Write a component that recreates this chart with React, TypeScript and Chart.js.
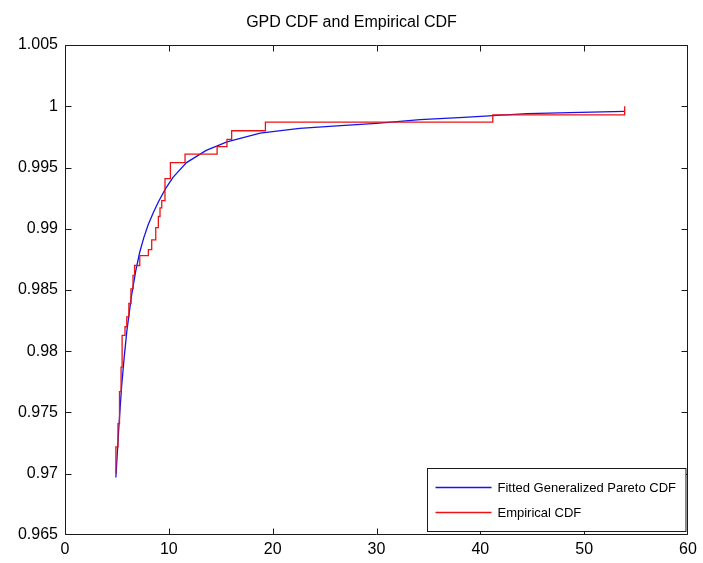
import React, { useEffect, useRef } from "react";
import { Chart, registerables } from "chart.js";

Chart.register(...registerables);

const TITLE = "GPD CDF and Empirical CDF";
const SERIES_NAMES = ["Fitted Generalized Pareto CDF", "Empirical CDF"];

const X_MIN = 0;
const X_MAX = 60;
const X_STEP = 10;
const Y_MIN = 0.965;
const Y_MAX = 1.005;
const Y_STEP = 0.005;

// Fitted GPD CDF
const gpdX = [4.9, 5.2, 5.45, 5.7, 5.95, 6.4, 6.8, 7.2, 7.6, 8.0, 8.5, 9.0, 9.7, 10.4, 11.7, 13.6, 15.6, 18.8, 22.6, 26.2, 30.0, 34.2, 38.4, 44.5, 50.7, 53.9];
const gpdY = [0.9697, 0.974, 0.9771, 0.9795, 0.9816, 0.9845, 0.9865, 0.9881, 0.9893, 0.9903, 0.9913, 0.9922, 0.9933, 0.9942, 0.9954, 0.9964, 0.9971, 0.9978, 0.9982, 0.9984, 0.9986, 0.9989, 0.9991, 0.9994, 0.99952, 0.99958];

// Empirical CDF steps (x where the jump happens, level after the jump)
const ecdfX = [4.9, 4.9, 5.1, 5.25, 5.4, 5.5, 5.78, 5.95, 6.15, 6.35, 6.55, 6.7, 7.2, 8.03, 8.35, 8.74, 8.99, 9.15, 9.32, 9.63, 10.15, 11.56, 14.65, 15.6, 16.05, 19.3, 41.2, 53.9];
const ecdfY = [0.97, 0.9722, 0.9741, 0.9767, 0.9787, 0.9813, 0.982, 0.9828, 0.9839, 0.9851, 0.9862, 0.987, 0.9878, 0.9883, 0.9891, 0.9901, 0.991, 0.9917, 0.9923, 0.9941, 0.9954, 0.9961, 0.9967, 0.9973, 0.998, 0.9987, 0.9993, 1.0];

const BLUE = "rgb(20,20,235)";
const RED = "rgb(235,20,20)";
const AXIS = "#1a1a1a";
const FONT = '"Liberation Sans", Arial, Helvetica, sans-serif';
const TITLE_SIZE = 16;
const TICK_SIZE = 16;
const LEGEND_SIZE = 13;

const boxPlugin = {
  id: "matlabBox",
  afterDraw(chart: any) {
    const { ctx, chartArea } = chart;
    const l = Math.round(chartArea.left) + 0.5;
    const r = Math.round(chartArea.right) - 0.5;
    const t = Math.round(chartArea.top) + 0.5;
    const b = Math.round(chartArea.bottom) - 0.5;
    ctx.save();
    ctx.strokeStyle = AXIS;
    ctx.lineWidth = 1;
    ctx.beginPath();
    ctx.rect(l, t, r - l, b - t);
    const tl = 6;
    const xs = chart.scales.x;
    xs.ticks.forEach((tk: any) => {
      const px = Math.min(r, Math.max(l, Math.round(xs.getPixelForValue(tk.value)) + 0.5));
      ctx.moveTo(px, b);
      ctx.lineTo(px, b - tl);
      ctx.moveTo(px, t);
      ctx.lineTo(px, t + tl);
    });
    const ys = chart.scales.y;
    ys.ticks.forEach((tk: any) => {
      const py = Math.min(b, Math.max(t, Math.round(ys.getPixelForValue(tk.value)) + 0.5));
      ctx.moveTo(l, py);
      ctx.lineTo(l + tl, py);
      ctx.moveTo(r, py);
      ctx.lineTo(r - tl, py);
    });
    ctx.stroke();

    // legend box inside the plot, bottom-right
    const dsets = chart.data.datasets;
    ctx.font = `${LEGEND_SIZE}px ${FONT}`;
    let textW = 0;
    dsets.forEach((d: any) => {
      textW = Math.max(textW, ctx.measureText(d.label).width);
    });
    const lineLen = 56;
    const padL = 8;
    const gap = 6;
    const padR = 10;
    const rowH = 25;
    const boxW = padL + lineLen + gap + textW + padR;
    const boxH = rowH * dsets.length + 13;
    const bx = Math.round(chartArea.right - 3 - boxW) + 0.5;
    const by = Math.round(chartArea.bottom - 4 - boxH) + 0.5;
    ctx.fillStyle = "#fff";
    ctx.fillRect(bx, by, boxW, boxH);
    ctx.strokeStyle = AXIS;
    ctx.lineWidth = 1;
    ctx.strokeRect(bx, by, boxW, boxH);
    ctx.textBaseline = "middle";
    ctx.textAlign = "left";
    dsets.forEach((d: any, i: number) => {
      const cy = Math.round(by + 6 + rowH * (i + 0.5)) + 0.5;
      ctx.strokeStyle = d.borderColor;
      ctx.lineWidth = 1.3;
      ctx.beginPath();
      ctx.moveTo(bx + padL, cy);
      ctx.lineTo(bx + padL + lineLen, cy);
      ctx.stroke();
      ctx.fillStyle = "#000";
      ctx.fillText(d.label, bx + padL + lineLen + gap, cy + 1);
    });
    ctx.restore();
  },
};

export default function App() {
  const ref = useRef<HTMLCanvasElement>(null);

  useEffect(() => {
    if (!ref.current) return;
    const chart = new Chart(ref.current, {
      type: "line",
      data: {
        datasets: [
          {
            label: SERIES_NAMES[0],
            data: gpdX.map((x, i) => ({ x, y: gpdY[i] })),
            borderColor: BLUE,
            backgroundColor: BLUE,
            borderWidth: 1.3,
            pointRadius: 0,
            tension: 0,
            fill: false,
            order: 1,
          },
          {
            label: SERIES_NAMES[1],
            data: ecdfX.map((x, i) => ({ x, y: ecdfY[i] })),
            borderColor: RED,
            backgroundColor: RED,
            borderWidth: 1.3,
            pointRadius: 0,
            stepped: "before",
            fill: false,
            order: 0,
          },
        ],
      },
      options: {
        responsive: false,
        animation: false,
        events: [],
        layout: { padding: { left: 0, right: 0, top: 0, bottom: 0 } },
        plugins: {
          legend: { display: false },
          tooltip: { enabled: false },
          title: {
            display: true,
            text: TITLE,
            color: "#000",
            font: { family: FONT, size: TITLE_SIZE, weight: "normal" },
            padding: { top: 13, bottom: 12.8 },
          },
        },
        scales: {
          x: {
            type: "linear",
            min: X_MIN,
            max: X_MAX,
            border: { display: false },
            grid: { display: false, drawTicks: false },
            ticks: {
              stepSize: X_STEP,
              color: "#000",
              padding: 5,
              maxRotation: 0,
              font: { family: FONT, size: TICK_SIZE },
            },
            afterFit: (s: any) => {
              s.height = 28;
            },
          },
          y: {
            type: "linear",
            min: Y_MIN,
            max: Y_MAX,
            border: { display: false },
            grid: { display: false, drawTicks: false },
            ticks: {
              stepSize: Y_STEP,
              color: "#000",
              padding: 7,
              font: { family: FONT, size: TICK_SIZE },
              callback: (v: any) => String(+Number(v).toFixed(3)),
            },
            afterFit: (s: any) => {
              s.width = 65;
            },
          },
          yRight: {
            type: "linear",
            position: "right",
            display: true,
            border: { display: false },
            grid: { display: false, drawTicks: false },
            ticks: { display: false },
            afterFit: (s: any) => {
              s.width = 15;
            },
          },
        },
      },
      plugins: [boxPlugin],
    });
    return () => chart.destroy();
  }, []);

  return (
    <div style={{ position: "fixed", left: 0, top: 0, width: 703, height: 563, background: "#fff" }}>
      <canvas ref={ref} width={703} height={563} style={{ display: "block" }} />
    </div>
  );
}
